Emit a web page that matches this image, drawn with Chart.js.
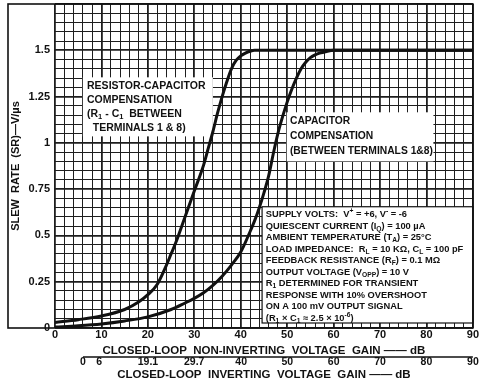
<!DOCTYPE html>
<html><head><meta charset="utf-8">
<script src="https://cdn.jsdelivr.net/npm/chart.js@4.4.0/dist/chart.umd.min.js"></script>
<style>html,body{margin:0;padding:0;background:#fff;}#wrap{width:479px;height:387px;}</style>
</head><body><div id="wrap"><canvas id="c" width="479" height="387"></canvas></div>
<script>
// ---- data ----
const rcGain = [0, 5, 10, 15, 18, 20, 22, 24, 25, 26, 28, 30, 32, 33, 34, 35, 36, 37, 38, 39, 40, 41, 42, 43, 44, 50, 60, 70, 80, 90];
const rcSlew = [0.03, 0.045, 0.065, 0.1, 0.14, 0.18, 0.235, 0.34, 0.4, 0.46, 0.6, 0.74, 0.88, 0.97, 1.06, 1.16, 1.25, 1.33, 1.4, 1.445, 1.47, 1.485, 1.495, 1.5, 1.5, 1.5, 1.5, 1.5, 1.5, 1.5];
const cGain = [0, 5, 10, 15, 20, 25, 28, 30, 32, 34, 36, 38, 40, 42, 43, 44, 45, 46, 47, 48, 49, 50, 51, 52, 53, 54, 55, 56, 57, 58, 60, 70, 80, 90];
const cSlew = [0.005, 0.012, 0.022, 0.038, 0.06, 0.1, 0.135, 0.16, 0.19, 0.23, 0.28, 0.34, 0.41, 0.52, 0.58, 0.65, 0.73, 0.82, 0.94, 1.05, 1.14, 1.22, 1.29, 1.35, 1.4, 1.435, 1.46, 1.475, 1.485, 1.49, 1.5, 1.5, 1.5, 1.5];

const xTickValues = [0, 10, 20, 30, 40, 50, 60, 70, 80, 90];
const xTickLabels = ['0', '10', '20', '30', '40', '50', '60', '70', '80', '90'];
const invGainValues = [0, 6, 19.1, 29.7, 40, 50, 60, 70, 80, 90];
const invGainLabels = ['0', '6', '19.1', '29.7', '40', '50', '60', '70', '80', '90'];
const yTickValues = [0, 0.25, 0.5, 0.75, 1, 1.25, 1.5];
const yTickLabels = ['0', '0.25', '0.5', '0.75', '1', '1.25', '1.5'];

const xTitle = 'CLOSED-LOOP  NON-INVERTING  VOLTAGE  GAIN —— dB';
const x2Title = 'CLOSED-LOOP  INVERTING  VOLTAGE  GAIN —— dB';
const yTitle = 'SLEW  RATE  (SR)—V/µs';

const noteRC = ['RESISTOR-CAPACITOR', 'COMPENSATION', '(R_{1} - C_{1}  BETWEEN', '  TERMINALS 1 & 8)'];
const noteC = ['CAPACITOR', 'COMPENSATION', '(BETWEEN TERMINALS 1&8)'];
const noteCond = [
  'SUPPLY VOLTS:  V^{+} = +6, V^{-} = -6',
  'QUIESCENT CURRENT (I_{Q}) = 100 µA',
  'AMBIENT TEMPERATURE (T_{A}) = 25°C',
  'LOAD IMPEDANCE:  R_{L} = 10 KΩ, C_{L} = 100 pF',
  'FEEDBACK RESISTANCE (R_{F}) = 0.1 MΩ',
  'OUTPUT VOLTAGE (V_{OPP}) = 10 V',
  'R_{1} DETERMINED FOR TRANSIENT',
  'RESPONSE WITH 10% OVERSHOOT',
  'ON A 100 mV OUTPUT SIGNAL',
  '(R_{1} × C_{1} ≈ 2.5 × 10^{-6})'
];

// ---- layout of notes (data units) ----
const FAM = "'Liberation Sans', Arial, sans-serif";
const noteBlocks = [
  {lines: noteRC, x: 6.9, y: 1.306, lh: 14, size: 10.5, box: [6.0, 1.354, 34.0, 1.035], stroke: false},
  {lines: noteC, x: 50.6, y: 1.116, lh: 15, size: 10.3, box: [49.9, 1.165, 81.5, 0.90], stroke: false},
  {lines: noteCond, x: 45.4, y: 0.612, lh: 11.5, size: 9.3, box: [44.6, 0.655, 90, 0.027], stroke: true}
];

function invToNonInv(g) { return 20 * Math.log10(Math.pow(10, g / 20) + 1); }
function near(a, b) { return Math.abs(a - b) < 1e-6; }

function drawRich(ctx, str, x, y, size) {
  const re = /([_^])\{([^}]*)\}/g;
  let last = 0, m; const parts = [];
  while ((m = re.exec(str))) {
    if (m.index > last) parts.push({t: str.slice(last, m.index), k: ''});
    parts.push({t: m[2], k: m[1]});
    last = re.lastIndex;
  }
  if (last < str.length) parts.push({t: str.slice(last), k: ''});
  let cx = x;
  for (const p of parts) {
    const fs = p.k ? size * 0.72 : size;
    ctx.font = `bold ${fs}px ${FAM}`;
    const dy = p.k === '_' ? size * 0.3 : (p.k === '^' ? -size * 0.38 : 0);
    ctx.fillText(p.t, cx, y + dy);
    cx += ctx.measureText(p.t).width;
  }
}

const notesPlugin = {
  id: 'notes',
  beforeDatasetsDraw(chart) {
    const {ctx, scales: {x, y}} = chart;
    ctx.save();
    for (const b of noteBlocks) {
      const l = x.getPixelForValue(b.box[0]), t = y.getPixelForValue(b.box[1]);
      const r = x.getPixelForValue(b.box[2]), bt = y.getPixelForValue(b.box[3]);
      ctx.fillStyle = '#fff';
      ctx.fillRect(l, t, r - l, bt - t);
      if (b.stroke) {
        ctx.strokeStyle = '#111'; ctx.lineWidth = 1.2;
        ctx.strokeRect(l, t, r - l, bt - t);
      }
      ctx.fillStyle = '#111';
      ctx.textBaseline = 'middle'; ctx.textAlign = 'left';
      const px = x.getPixelForValue(b.x), py = y.getPixelForValue(b.y);
      b.lines.forEach((ln, i) => drawRich(ctx, ln, px, py + i * b.lh, b.size));
    }
    ctx.restore();
  },
  afterDraw(chart) {
    const {ctx, chartArea: a, scales: {y, x2}} = chart;
    ctx.save();
    ctx.strokeStyle = '#111'; ctx.lineWidth = 1.6;
    ctx.strokeRect(y.left, a.top, a.right - y.left, a.bottom - a.top);
    // inverting-gain axis line
    ctx.lineWidth = 1.3;
    ctx.beginPath();
    ctx.moveTo(x2.getPixelForValue(invToNonInv(invGainValues[0])), x2.top);
    ctx.lineTo(x2.right, x2.top);
    ctx.stroke();
    ctx.restore();
  }
};

const gridColor = '#1e1e1e';
new Chart(document.getElementById('c'), {
  type: 'line',
  data: {
    datasets: [
      {data: rcGain.map((g, i) => ({x: g, y: rcSlew[i]})), borderColor: '#111', borderWidth: 3, pointRadius: 0, cubicInterpolationMode: 'monotone', fill: false},
      {data: cGain.map((g, i) => ({x: g, y: cSlew[i]})), borderColor: '#111', borderWidth: 3, pointRadius: 0, cubicInterpolationMode: 'monotone', fill: false}
    ]
  },
  options: {
    responsive: false, animation: false, devicePixelRatio: 1,
    layout: {padding: {left: 8, top: 4, right: 6, bottom: 0}},
    plugins: {legend: {display: false}, tooltip: {enabled: false}},
    scales: {
      x: {
        type: 'linear', min: 0, max: 90, position: 'bottom', weight: 0,
        ticks: {
          stepSize: 2, autoSkip: false, maxRotation: 0, minRotation: 0, padding: 0,
          color: '#111', font: {family: FAM, size: 11, weight: 'bold'},
          callback: v => { const i = xTickValues.findIndex(t => near(t, v)); return i >= 0 ? xTickLabels[i] : ''; }
        },
        grid: {
          drawTicks: false,
          color: gridColor,
          lineWidth: c => (c.tick && Math.abs(c.tick.value / 10 - Math.round(c.tick.value / 10)) < 1e-6) ? 1.8 : 1
        },
        border: {display: false},
        title: {display: true, text: xTitle, color: '#111', font: {family: FAM, size: 11.5, weight: 'bold', lineHeight: 1}, padding: {top: 0, bottom: 0}},
        afterFit: s => { s.height = 29; }
      },
      x2: {
        type: 'linear', min: 0, max: 90, position: 'bottom', weight: 1,
        afterBuildTicks: s => { s.ticks = invGainValues.map(g => ({value: invToNonInv(g)})); },
        ticks: {
          autoSkip: false, maxRotation: 0, minRotation: 0, padding: 0,
          color: '#111', font: {family: FAM, size: 10.5, weight: 'bold', lineHeight: 1},
          callback: (v, i) => invGainLabels[i]
        },
        grid: {display: false, drawTicks: false},
        border: {display: false},
        title: {display: true, text: x2Title, color: '#111', font: {family: FAM, size: 11.5, weight: 'bold', lineHeight: 1}, padding: {top: 0, bottom: 6}},
        afterFit: s => { s.height = 30; }
      },
      y: {
        type: 'linear', min: 0, max: 1.75, position: 'left',
        ticks: {
          stepSize: 0.05, autoSkip: false, padding: 5,
          color: '#111', font: {family: FAM, size: 11, weight: 'bold'},
          callback: v => { const i = yTickValues.findIndex(t => near(t, v)); return i >= 0 ? yTickLabels[i] : ''; }
        },
        grid: {
          drawTicks: false,
          color: gridColor,
          lineWidth: c => (c.tick && Math.abs(c.tick.value / 0.25 - Math.round(c.tick.value / 0.25)) < 1e-6) ? 1.8 : 1
        },
        border: {display: false},
        title: {display: true, text: yTitle, color: '#111', font: {family: FAM, size: 11, weight: 'bold', lineHeight: 1.2}, padding: {top: 1, bottom: 0}},
        afterFit: s => { s.width = 47; s.paddingTop = 0; s.paddingBottom = 0; }
      }
    }
  },
  plugins: [notesPlugin]
});
</script></body></html>
